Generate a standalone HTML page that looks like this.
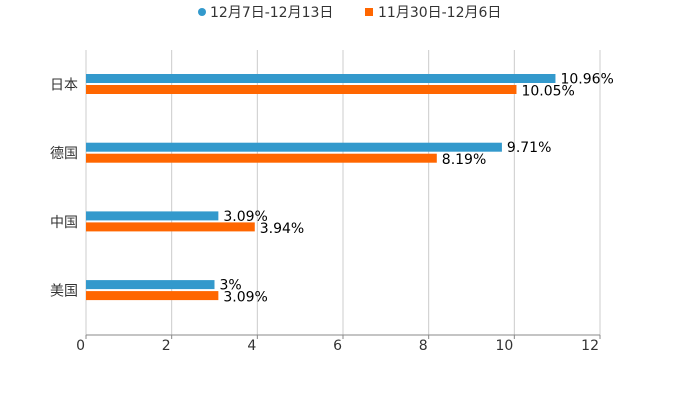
<!DOCTYPE html>
<html><head><meta charset="utf-8"><style>
body{margin:0;background:#fff;}
svg text{font-family:"DejaVu Sans","Liberation Sans","Noto Sans CJK SC",sans-serif;}
</style></head><body>
<svg id="c" width="700" height="400">
<g>
<g><circle cx="202" cy="12" r="4" fill="#3399cc"/><text x="210" y="17" font-size="14" fill="#333">12月7日-12月13日</text></g>
<g><rect x="365" y="8" width="8" height="8" fill="#ff6600"/><text x="378" y="17" font-size="14" fill="#333">11月30日-12月6日</text></g>
</g>
<g id="grid"></g>
<g id="bars"></g>
<g id="axes"></g>
</svg>
<script>
const categories=["日本","德国","中国","美国"];
const seriesA=[10.96,9.71,3.09,3];
const seriesB=[10.05,8.19,3.94,3.09];
const labelsA=["10.96%","9.71%","3.09%","3%"];
const labelsB=["10.05%","8.19%","3.94%","3.09%"];
const ticks=[0,2,4,6,8,10,12];
const NS="http://www.w3.org/2000/svg";
const x0=86,x1=600,yTop=50,yBot=335,xMax=12;
const xs=v=>x0+v/xMax*(x1-x0);
const band=68.7;
const yc=i=>84.5+band*i;
function mk(t,a,p){const e=document.createElementNS(NS,t);for(const k in a)e.setAttribute(k,a[k]);p.appendChild(e);return e;}
const G=document.getElementById('grid'),B=document.getElementById('bars'),A=document.getElementById('axes');
ticks.forEach(t=>{
 const g=mk('line',{x1:xs(t),x2:xs(t),y1:yTop,y2:yBot,stroke:'#ccc','stroke-width':1},G);
 
 
 const tk=mk('line',{x1:xs(t),x2:xs(t),y1:yBot,y2:yBot+4,stroke:'#888'},A);
 
 
 const tl=mk('text',{x:xs(t)-1,y:yBot+15,'text-anchor':'end','font-size':14,fill:'#333'},A);
 tl.textContent=t;
 
 
});
const ax=mk('line',{x1:x0,x2:x1,y1:yBot,y2:yBot,stroke:'#888'},A);


categories.forEach((c,i)=>{
 const cy=yc(i);
 const cl=mk('text',{x:78,y:cy+5,'text-anchor':'end','font-size':14,fill:'#333'},A);
 cl.textContent=c;
 
 
 const ra=mk('rect',{x:x0,y:cy-10.5,width:xs(seriesA[i])-x0,height:9,fill:'#3399cc'},B);
 
 
 const rb=mk('rect',{x:x0,y:cy+0.5,width:xs(seriesB[i])-x0,height:9,fill:'#ff6600'},B);
 
 
 const la=mk('text',{x:xs(seriesA[i])+5,y:cy-1,'font-size':14,fill:'#000'},B);
 la.textContent=labelsA[i];
 
 
 const lb=mk('text',{x:xs(seriesB[i])+5,y:cy+11,'font-size':14,fill:'#000'},B);
 lb.textContent=labelsB[i];
 
 
});
</script>
</body></html>
